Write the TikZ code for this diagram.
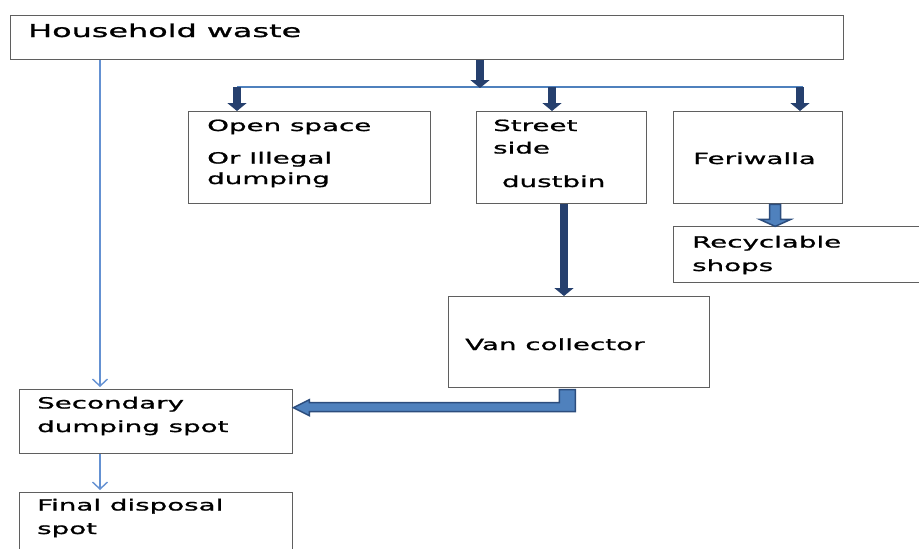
\documentclass[tikz,border=0pt]{standalone}
\usepackage{fontspec}
\usetikzlibrary{arrows.meta}
\newfontfamily\boxfont[FakeStretch=1.8,FakeBold=1.2]{DejaVu Sans}
\definecolor{navy}{RGB}{38,64,110}
\definecolor{midblue}{RGB}{79,129,189}
\definecolor{edgeblue}{RGB}{44,77,125}
\definecolor{thinblue}{RGB}{100,145,210}
\definecolor{boxgray}{RGB}{95,95,95}
\tikzstyle{box} = [draw=boxgray, line width=1.4pt, inner sep=0pt, anchor=north west]
\tikzstyle{txt} = [inner sep=0pt, anchor=base west, align=left, font={\boxfont\fontsize{15.4}{23.5}\selectfont}]
\tikzstyle{thinarrow} = [draw=thinblue, line width=1.4pt, shorten >=2pt, -{Straight Barb[length=7pt,width=15pt]}]
\tikzstyle{navyarrow} = [draw=navy, line width=8pt, -{Triangle[length=8pt,width=19pt]}]
\tikzstyle{bus} = [draw=midblue, line width=2.5pt]
\tikzstyle{blockarrow} = [fill=midblue, draw=edgeblue, line width=1.5pt, line join=miter]

\begin{document}
\begin{tikzpicture}[x=1pt,y=-1pt]
        \path[use as bounding box, fill=white] (0,0) rectangle (919,549);
        % boxes
        \node[box, minimum width=833pt, minimum height=44pt](hw) at (10,15){};
        \node[box, minimum width=242pt, minimum height=92pt](os) at (188,111){};
        \node[box, minimum width=170pt, minimum height=92pt](ssd) at (476,111){};
        \node[box, minimum width=169pt, minimum height=92pt](fw) at (673,111){};
        \node[box, minimum width=262pt, minimum height=56pt](rs) at (673,226){};
        \node[box, minimum width=261pt, minimum height=91pt](van) at (448,296){};
        \node[box, minimum width=273pt, minimum height=64pt](sds) at (19,389){};
        \node[box, minimum width=273pt, minimum height=80pt](fds) at (19,492){};
        % texts (base = last line)
        \node[txt, font={\boxfont\fontsize{17.7}{20}\selectfont}](hwt) at (28,37){Household waste};
        \node[txt](ost) at (207,184){Open space\\[9pt]Or Illegal\\[-3pt]dumping};
        \node[txt](ssdt) at (493,187){Street\\[-1pt]side\\[10pt]\ dustbin};
        \node[txt](fwt) at (693,164){Feriwalla};
        \node[txt](rst) at (692,271){Recyclable\\shops};
        \node[txt](vant) at (465,350){Van collector};
        \node[txt](sdst) at (37,432){Secondary\\dumping spot};
        \node[txt](fdst) at (37,534){Final disposal\\spot};
        % connectors
        \coordinate (busl) at (237,87);
        \coordinate (busr) at (803,87);
        \coordinate (bus) at (480,88);
        \draw[bus](busl)--(busr);
        \draw[navyarrow](hw.south -| bus)--(bus);
        \foreach \x/\n in {237/os,552/ssd,800/fw}
          \draw[navyarrow](busl -| \x,0)--(\n.north -| \x,0);
        \draw[navyarrow](ssd.south -| 564,0)--(van.north -| 564,0);
        \draw[thinarrow]([xshift=90pt]hw.south west)--([xshift=81pt]sds.north west);
        \draw[thinarrow]([xshift=81pt]sds.south west)--([xshift=81pt]fds.north west);
        \draw[blockarrow]([xshift=17pt]fw.south) ++(-5.5,0) -- ++(11,0) -- ++(0,15) -- ++(10,0)
          -- ++(-15.5,7) -- ++(-15.5,-7) -- ++(10,0) -- cycle;
        \draw[blockarrow]([yshift=14pt]sds.east) -- ++(16,-8) -- ++(0,3) -- ++(250,0) -- ++(0,-13)
          -- ++(16,0) -- ++(0,22) -- ++(-266,0) -- ++(0,4) -- cycle;
      \end{tikzpicture}
\end{document}
